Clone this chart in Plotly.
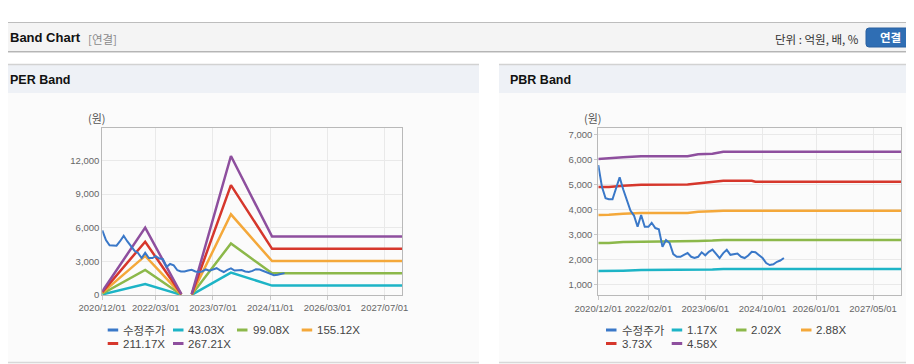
import plotly.graph_objects as go
import pandas as pd

# the page body adds an 8px margin, so the figure is sized to the rest of the window
OFF = 8
W, H = 914 - OFF, 364 - OFF

# ---------------- data ----------------
price = [5770, 4900, 4440, 4400, 4400, 4800, 5280, 4800, 4350, 3950, 3750, 3300,
         3770, 3300, 3300, 3460, 3250, 3200, 2500, 2770, 2650, 2210, 2100, 2100,
         2180, 2250, 2100, 2050, 2100, 2280, 2160, 2300, 2390, 2200, 2050, 2250,
         2380, 2180, 2200, 2230, 2100, 2050, 2150, 2300, 2280, 2150, 2050, 1850,
         1770, 1800, 1900, 1950, 2050]
price_dates = pd.date_range("2020-12-01", periods=len(price), freq="MS")

per_dates = ["2020-12-01", "2021-12-01", "2022-10-05", "2022-11-15",
             "2023-01-01", "2023-12-01", "2024-11-15", "2027-11-26"]
per_names = ["43.03X", "99.08X", "155.12X", "211.17X", "267.21X"]
per_band_1 = [52, 968, 13, None, 13, 1997, 839, 839]
per_band_2 = [119, 2229, 30, None, 30, 4597, 1932, 1932]
per_band_3 = [186, 3490, 47, None, 47, 7198, 3025, 3025]
per_band_4 = [253, 4751, 63, None, 63, 9798, 4118, 4118]
per_band_5 = [321, 6012, 80, None, 80, 12399, 5211, 5211]

pbr_dates = ["2020-12-01", "2021-03-01", "2021-07-01", "2021-12-01", "2023-01-01",
             "2023-04-01", "2023-08-01", "2023-11-01", "2024-07-01", "2024-08-01",
             "2027-12-25"]
pbr_names = ["1.17X", "2.02X", "2.88X", "3.73X", "4.58X"]
pbr_band_1 = [1532, 1532, 1545, 1570, 1570, 1575, 1590, 1610, 1610, 1610, 1610]
pbr_band_2 = [2650, 2650, 2690, 2695, 2700, 2730, 2750, 2775, 2775, 2775, 2775]
pbr_band_3 = [3775, 3780, 3820, 3850, 3850, 3900, 3925, 3945, 3945, 3945, 3945]
pbr_band_4 = [4895, 4895, 4940, 4980, 4990, 5030, 5080, 5140, 5140, 5100, 5100]
pbr_band_5 = [6010, 6050, 6080, 6120, 6120, 6200, 6220, 6300, 6300, 6300, 6300]

per_ticks = ["2020-12-01", "2022-03-01", "2023-07-01", "2024-11-01", "2026-03-01", "2027-07-01"]
per_ticktext = ["2020/12/01", "2022/03/01", "2023/07/01", "2024/11/01", "2026/03/01", "2027/07/01"]
pbr_ticks = ["2020-12-01", "2022-02-01", "2023-06-01", "2024-10-01", "2026-01-01", "2027-05-01"]
pbr_ticktext = ["2020/12/01", "2022/02/01", "2023/06/01", "2024/10/01", "2026/01/01", "2027/05/01"]
per_yticks = [0, 3000, 6000, 9000, 12000]
pbr_yticks = [1000, 2000, 3000, 4000, 5000, 6000, 7000]

price_name = "수정주가"
colors = ["#3a78c8", "#1db4c6", "#8cb84a", "#f4a83a", "#d6372c", "#8e4f9e"]

# ---------------- helpers (window pixel -> paper) ----------------
def px(x):
    return (x - OFF) / W

def py(y):
    return 1 - (y - OFF) / H

FONT = "Liberation Sans, Noto Sans CJK KR, sans-serif"
KFONT = "Noto Sans CJK KR, Liberation Sans, sans-serif"

fig = go.Figure()

# PER chart traces
for i, band in enumerate([per_band_1, per_band_2, per_band_3, per_band_4, per_band_5]):
    fig.add_trace(go.Scatter(x=per_dates, y=band, mode="lines", connectgaps=False,
                             line=dict(color=colors[i + 1], width=2.5), name=per_names[i],
                             xaxis="x", yaxis="y", showlegend=False))
fig.add_trace(go.Scatter(x=price_dates[:-1], y=price[:-1], mode="lines",
                         line=dict(color=colors[0], width=2), name=price_name,
                         xaxis="x", yaxis="y", showlegend=False))

# PBR chart traces
for i, band in enumerate([pbr_band_1, pbr_band_2, pbr_band_3, pbr_band_4, pbr_band_5]):
    fig.add_trace(go.Scatter(x=pbr_dates, y=band, mode="lines",
                             line=dict(color=colors[i + 1], width=2.5), name=pbr_names[i],
                             xaxis="x2", yaxis="y2", showlegend=False))
fig.add_trace(go.Scatter(x=price_dates, y=price, mode="lines",
                         line=dict(color=colors[0], width=2), name=price_name,
                         xaxis="x2", yaxis="y2", showlegend=False))

axis_common = dict(showline=True, linecolor="#b9b9b9", linewidth=1, mirror=True,
                   gridcolor="#e9e9e9", zeroline=False, automargin=False,
                   tickfont=dict(family=FONT, size=9.5, color="#666666"))

fig.update_layout(
    width=W, height=H, autosize=False,
    margin=dict(l=0, r=0, t=0, b=0, pad=0),
    paper_bgcolor="#ffffff",
    plot_bgcolor="#ffffff",
    showlegend=False,
    xaxis=dict(domain=[px(102.3), px(402)], type="date",
               range=["2020-12-01", "2027-11-26"],
               tickvals=per_ticks, ticktext=per_ticktext, tickangle=0,
               ticks="outside", ticklen=4, tickcolor="#c8c8c8", anchor="y", **axis_common),
    yaxis=dict(domain=[py(295), py(128)], range=[0, 14900],
               tickvals=per_yticks, tickformat=",", ticks="",
               anchor="x", **axis_common),
    xaxis2=dict(domain=[px(598.3), px(901)], type="date",
                range=["2020-12-01", "2027-12-25"],
                tickvals=pbr_ticks, ticktext=pbr_ticktext, tickangle=0,
                ticks="outside", ticklen=4, tickcolor="#c8c8c8", anchor="y2", **axis_common),
    yaxis2=dict(domain=[py(295.3), py(128.3)], range=[560, 7240],
                tickvals=pbr_yticks, tickformat=",", ticks="outside", ticklen=3,
                tickcolor="#c8c8c8", anchor="x2", **axis_common),
)

shapes = []
def rect(x0, y0, x1, y1, fill, line=None, layer="below"):
    shapes.append(dict(type="rect", xref="paper", yref="paper",
                       x0=px(x0), x1=px(x1), y0=py(y1), y1=py(y0),
                       fillcolor=fill, line=dict(width=0) if line is None else line,
                       layer=layer))

def hline(x0, x1, y, color, width=1, layer="below"):
    shapes.append(dict(type="line", xref="paper", yref="paper",
                       x0=px(x0), x1=px(x1), y0=py(y), y1=py(y),
                       line=dict(color=color, width=width), layer=layer))

# page header
hline(0, 914, 22.5, "#bdbdbd")
rect(0, 23, 914, 51, "#f4f4f4")
hline(0, 914, 51.5, "#b5b5b5", 1.2)
hline(0, 914, 52.5, "#dcdcdc", 1)

# panels
for (a, b) in [(0, 479), (499, 914)]:
    rect(a, 64, b, 364, "#fbfbfb")
    rect(a, 64, b, 93, "#eef1f6")
    hline(a, b, 64.5, "#d2d2d2", 1.5)
    hline(a, b, 362.5, "#d8d8d8", 1.5)

# button
bx0, bx1, by0, by1, r = 866, 914, 28, 47, 3
path = (f"M {px(bx0 + r)},{py(by0)} L {px(bx1)},{py(by0)} L {px(bx1)},{py(by1)} "
        f"L {px(bx0 + r)},{py(by1)} Q {px(bx0)},{py(by1)} {px(bx0)},{py(by1 - r)} "
        f"L {px(bx0)},{py(by0 + r)} Q {px(bx0)},{py(by0)} {px(bx0 + r)},{py(by0)} Z")
shapes.append(dict(type="path", xref="paper", yref="paper", path=path,
                   fillcolor="#2f6eb4", line=dict(color="#2a61a0", width=1), layer="above"))

annotations = []
def text(x, y, s, size=11, color="#333333", bold=False, xanchor="left", family=FONT):
    annotations.append(dict(xref="paper", yref="paper", x=px(x), y=py(y), text=(f"<b>{s}</b>" if bold else s),
                            showarrow=False, xanchor=xanchor, yanchor="middle",
                            font=dict(family=family, size=size, color=color)))

text(8, 38, "Band Chart", 13, "#111111", bold=True)
text(86, 38.5, "[연결]", 11.5, "#8a8a8a", family=KFONT)
text(861, 39, "단위 : 억원, 배, %", 11.5, "#333333", xanchor="right", family=KFONT)
text(890, 37.5, "연결", 11.5, "#ffffff", bold=True, xanchor="center", family=KFONT)
text(8, 80, "PER Band", 12.5, "#111111", bold=True)
text(508, 80, "PBR Band", 12.5, "#111111", bold=True)
text(97, 118, "(원)", 11, "#555555", xanchor="center", family=KFONT)
text(593, 118, "(원)", 11, "#555555", xanchor="center", family=KFONT)

# manual legends
def legend_item(x_line, x_text, y, color, label):
    shapes.append(dict(type="line", xref="paper", yref="paper",
                       x0=px(x_line), x1=px(x_line + 10.5), y0=py(y), y1=py(y),
                       line=dict(color=color, width=3), layer="above"))
    text(x_text, y, label, 11.5, "#444444", family=KFONT if label == price_name else FONT)

per_leg = [(107.7, 120.7, 330), (173, 186, 330), (237, 250.7, 330), (301.7, 315.3, 330),
           (107.7, 120.7, 343.5), (173, 186, 343.5)]
pbr_leg = [(606, 619.5, 330), (671.7, 684.5, 330), (736, 749.3, 330), (801, 814, 330),
           (606, 619.5, 343.5), (671.7, 684.5, 343.5)]
labels_per = [price_name] + per_names
labels_pbr = [price_name] + pbr_names
for i, (xl, xt, yy) in enumerate(per_leg):
    legend_item(xl, xt, yy, colors[i], labels_per[i])
for i, (xl, xt, yy) in enumerate(pbr_leg):
    legend_item(xl, xt, yy, colors[i], labels_pbr[i])

fig.update_layout(shapes=shapes, annotations=annotations)
fig.write_html("out.html")
